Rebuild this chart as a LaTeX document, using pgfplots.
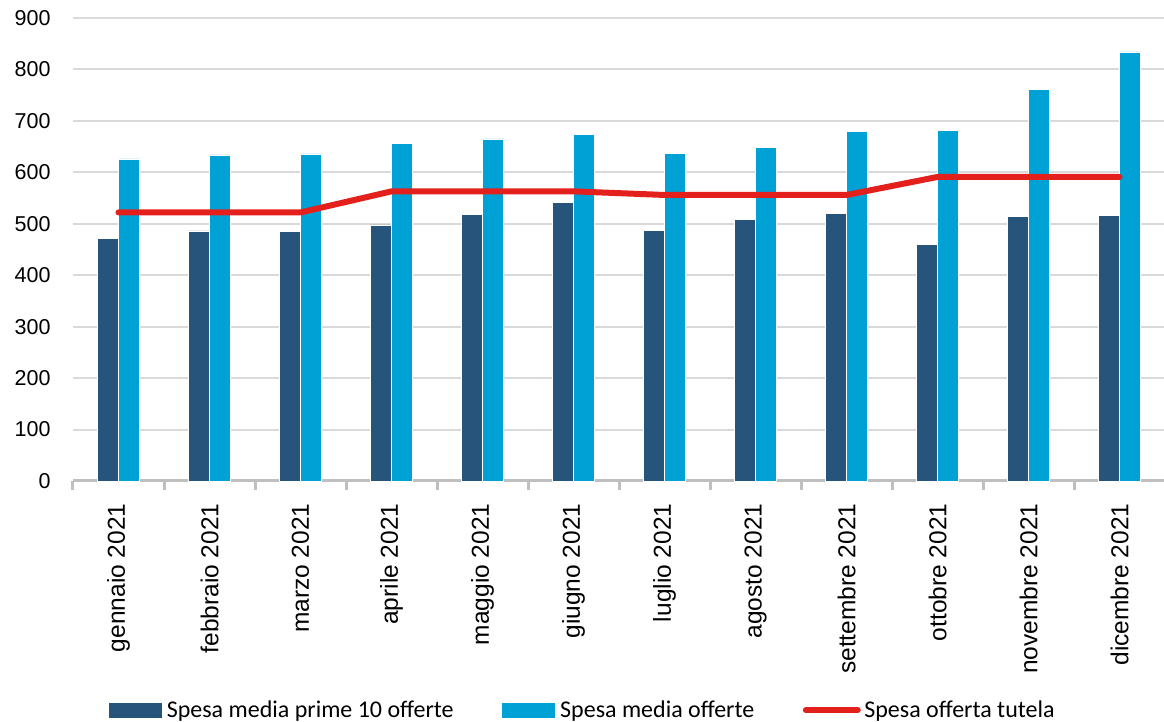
\documentclass[border=0pt]{standalone}
\usepackage{pgfplots}
\pgfplotsset{compat=1.18}
\usepackage{fontspec}
\setmainfont{Liberation Sans}
\newfontfamily\legfont{Carlito}
\definecolor{darkbar}{HTML}{27547A}
\definecolor{lightbar}{HTML}{00A2D6}
\definecolor{redline}{HTML}{E3201B}
\definecolor{gridgray}{HTML}{D9D9D9}
\definecolor{axisgray}{HTML}{BFBFBF}
\begin{document}
\begin{tikzpicture}
\begin{axis}[
  scale only axis,
  width=1092pt, height=463pt,
  xmin=-0.5, xmax=11.5,
  ymin=0, ymax=900,
  ytick={0,100,...,900},
  xtick={0,...,11},
  xticklabels={gennaio 2021,febbraio 2021,marzo 2021,aprile 2021,maggio 2021,giugno 2021,luglio 2021,agosto 2021,settembre 2021,ottobre 2021,novembre 2021,dicembre 2021},
  extra x ticks={-0.5,0.5,...,11.5},
  extra x tick labels={},
  extra x tick style={major tick length=9pt, tick align=outside, tick style={axisgray, line width=3pt}, grid=none},
  major tick length=0pt,
  /pgf/number format/assume math mode=true,
  yticklabel style={font=\fontsize{21.5}{25}\selectfont, black, xshift=-19pt},
  xticklabel style={font=\fontsize{24.5}{28}\selectfont, black, rotate=90, anchor=east, xshift=-19pt, xshift=0pt},
  axis x line*=bottom,
  axis y line*=left,
  y axis line style={draw=none},
  x axis line style={axisgray, line width=3pt, -},
  ymajorgrids,
  grid style={gridgray, line width=2pt},
  legend columns=3,
  legend style={draw=none, fill=none, at={(0.467,-0.495)}, anchor=center,
    font=\legfont\fontsize{24}{28}\selectfont,
    /tikz/every even column/.append style={column sep=46pt},
    nodes={inner sep=2.5pt}},
  clip=false,
]
\addplot[ybar, bar width=21pt, bar shift=-10.5pt, fill=darkbar, draw=white, line width=0.5pt,
  legend image code/.code={\fill[darkbar] (0pt,-7pt) rectangle (52pt,7pt); \path (55pt,0pt);}]
  coordinates {(0,472) (1,486) (2,485) (3,498) (4,518) (5,541) (6,487) (7,508) (8,520) (9,460) (10,514) (11,516)};
\addlegendentry{Spesa media prime 10 offerte}
\addplot[ybar, bar width=21pt, bar shift=10.5pt, fill=lightbar, draw=white, line width=0.5pt,
  legend image code/.code={\fill[lightbar] (0pt,-7pt) rectangle (52pt,7pt); \path (55pt,0pt);}]
  coordinates {(0,626) (1,634) (2,636) (3,656) (4,665) (5,674) (6,637) (7,648) (8,680) (9,682) (10,761) (11,834)};
\addlegendentry{Spesa media offerte}
\addplot[sharp plot, redline, line width=6pt, line cap=round, line join=round, mark=none,
  legend image code/.code={\draw[redline, line width=6pt, line cap=round] (0pt,0pt) -- (52pt,0pt); \path (53pt,0pt);}]
  coordinates {(0,522) (1,522) (2,522) (3,563) (4,563) (5,563) (6,556) (7,556) (8,556) (9,591) (10,591) (11,591)};
\addlegendentry{Spesa offerta tutela}
\end{axis}
\pgfresetboundingbox
\path[use as bounding box] ([xshift=-73pt,yshift=-241pt]current axis.south west) rectangle ([xshift=-1pt,yshift=18pt]current axis.north east);
\end{tikzpicture}
\end{document}
